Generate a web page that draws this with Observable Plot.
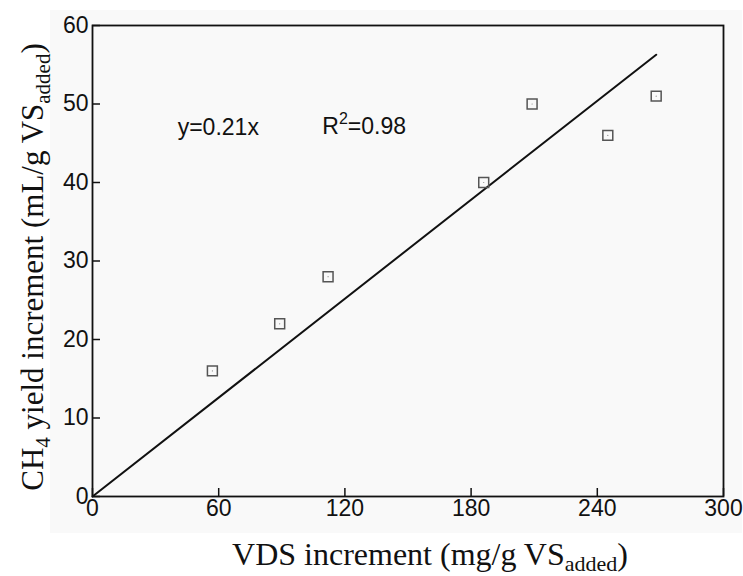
<!DOCTYPE html>
<html><head><meta charset="utf-8">
<script src="https://cdn.jsdelivr.net/npm/d3@7"></script>
<script src="https://cdn.jsdelivr.net/npm/@observablehq/plot@0.6"></script>
<style>body{margin:0;background:#fff}</style>
</head><body><div id="chart"></div>
<script>
const vdsIncrement = [57, 89, 112, 186, 209, 245, 268];
const ch4Increment = [16, 22, 28, 40, 50, 46, 51];
const slope = 0.21;
const xTicks = [0, 60, 120, 180, 240, 300];
const yTicks = [0, 10, 20, 30, 40, 50, 60];
const fitX = [0, 268];

const points = vdsIncrement.map((x, i) => ({x, y: ch4Increment[i]}));
const fit = fitX.map(x => ({x, y: slope * x}));

const W = 743, H = 576;
const sans = "'Liberation Sans', Arial, sans-serif";
const plot = Plot.plot({
  width: W, height: H,
  marginLeft: 92, marginRight: 20, marginTop: 25, marginBottom: 80,
  style: {fontFamily: sans, fontSize: "23px", background: "transparent", color: "#111"},
  x: {domain: [0, 300], ticks: xTicks, label: null},
  y: {domain: [0, 60], ticks: yTicks, label: null},
  marks: [
    Plot.axisX({ticks: xTicks, tickSize: -8, tickPadding: 11, label: null, fontSize: 23, strokeWidth: 1.5}),
    Plot.axisY({ticks: yTicks, tickSize: -8, tickPadding: 12, label: null, fontSize: 23, strokeWidth: 1.5}),
    Plot.frame({stroke: "#111", strokeWidth: 1.8}),
    Plot.line(fit, {x: "x", y: "y", stroke: "#111", strokeWidth: 2}),
    Plot.dot(points, {x: "x", y: "y", symbol: "square", r: 5.6, stroke: "#555", strokeWidth: 1.5, fill: "none"}),
    Plot.dot(points, {x: "x", y: "y", r: 0.6, fill: "#888"}),
    Plot.text([{x: 40.5, y: 47}], {x: "x", y: "y", text: () => "y=0.21x", textAnchor: "start", fontSize: 23, fill: "#111"})
  ]
});

const svg = d3.select(plot);
svg.insert("rect", ":first-child")
  .attr("x", 50).attr("y", 10).attr("width", 692).attr("height", 523)
  .attr("fill", "#f9f9f9");
svg.insert("rect", ":first-child")
  .attr("x", 0).attr("y", 0).attr("width", W).attr("height", H).attr("fill", "#fff");

// R^2 annotation
const xs = d3.scaleLinear([0, 300], [92, 723]);
const ys = d3.scaleLinear([0, 60], [496, 25]);
const r2 = svg.append("text")
  .attr("x", xs(109.5)).attr("y", ys(47)).attr("dy", "0.32em").attr("text-anchor", "start")
  .attr("font-family", sans).attr("font-size", 23).attr("fill", "#111");
r2.append("tspan").text("R");
r2.append("tspan").attr("dy", -10).attr("font-size", 16).text("2");
r2.append("tspan").attr("dy", 10).text("=0.98");

// axis titles with subscripts
const serif = "'Liberation Serif', 'Times New Roman', serif";
const xl = svg.append("text").attr("x", 430).attr("y", 565).attr("text-anchor", "middle")
  .attr("font-family", serif).attr("font-size", 32).attr("fill", "#111");
xl.append("tspan").text("VDS increment (mg/g VS");
xl.append("tspan").attr("dy", 6).attr("font-size", 22).text("added");
xl.append("tspan").attr("dy", -6).text(")");

const yl = svg.append("text").attr("transform", "translate(43,267) rotate(-90)").attr("text-anchor", "middle")
  .attr("font-family", serif).attr("font-size", 31).attr("fill", "#111");
yl.append("tspan").text("CH");
yl.append("tspan").attr("dy", 7).attr("font-size", 21).text("4");
yl.append("tspan").attr("dy", -7).text(" yield increment (mL/g VS");
yl.append("tspan").attr("dy", 7).attr("font-size", 21).text("added");
yl.append("tspan").attr("dy", -7).text(")");

document.getElementById("chart").appendChild(plot);
</script>
</body></html>
